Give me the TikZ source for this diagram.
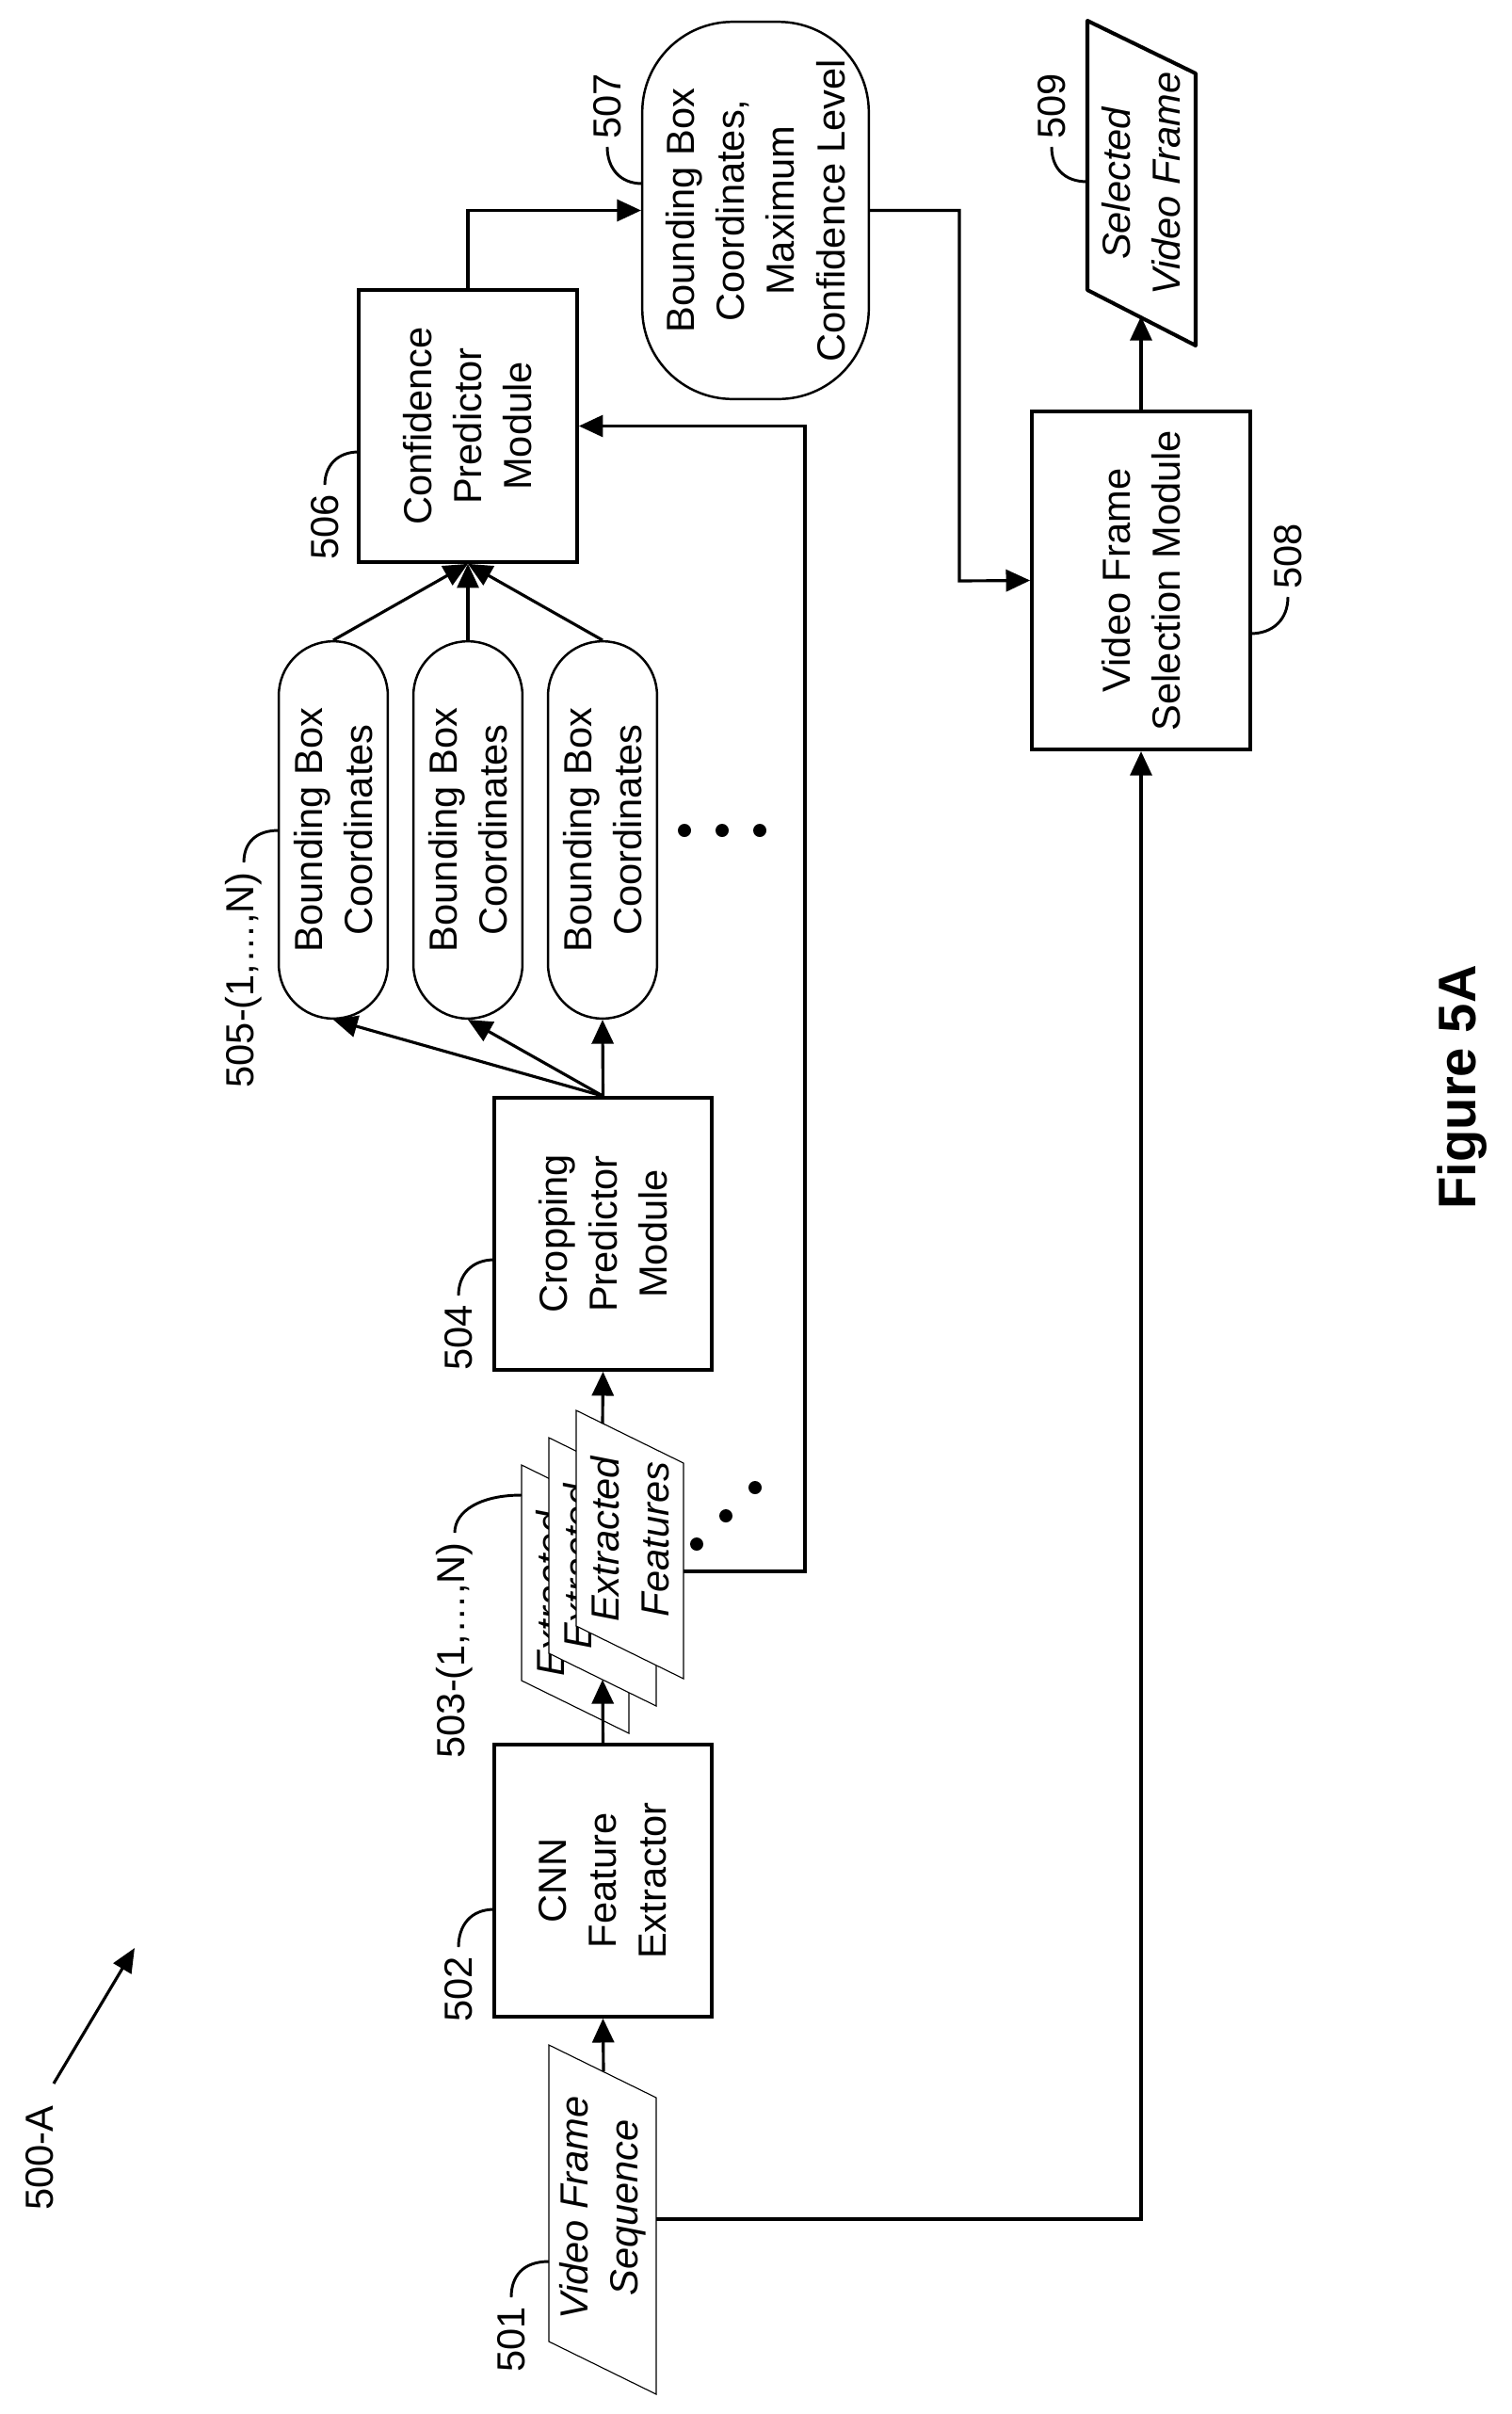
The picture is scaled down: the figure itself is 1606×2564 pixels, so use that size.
\documentclass[tikz,border=0pt]{standalone}
\usepackage{fontspec}
\setmainfont{Liberation Sans}
\usetikzlibrary{arrows.meta}
\tikzset{
  box/.style={draw,line width=1.8pt,rotate=90,minimum width=4.51cm,minimum height=3.62cm,align=center,inner sep=0pt},
  pill/.style={draw,line width=1.1pt,rotate=90,rounded corners=0.9cm,minimum width=6.26cm,minimum height=1.81cm,align=center,inner sep=0pt},
  lab/.style={rotate=90,inner sep=0pt},
  arr/.style={line width=1.4pt,-{Triangle[length=0.4cm,width=0.36cm]}},
  ln/.style={line width=1.4pt},
  lead/.style={line width=1.3pt},
  sheet/.style={draw,fill=white,line width=0.5pt},
}
\begin{document}
\begin{tikzpicture}[x=0.01562cm,y=-0.01562cm]
  \fontsize{18.5}{23.6}\selectfont
  \useasboundingbox (0,0) rectangle (1606,2564);

  % video frame sequence
  \filldraw[sheet] (583,2172)--(697,2228)--(697,2543)--(583,2487)--cycle;
  \node[lab,align=center,font=\itshape] (vfs) at (640,2345) {Video Frame\\Sequence};
  \coordinate (vfsN) at (641,2200);
  \coordinate (vfsE) at (697,2357);

  % feature sheets, back to front
  \foreach \d/\nm in {58/fb,29/fm,0/ff}{
    \filldraw[sheet] (612-\d,1498+\d)--(726-\d,1554+\d)--(726-\d,1783+\d)--(612-\d,1727+\d)--cycle;
    \node[lab,align=center,font=\itshape] (\nm) at (669-\d,1635+\d) {Extracted\\Features};
  }
  \coordinate (fmS) at (640,1784);
  \coordinate (ffN) at (640,1512);
  \coordinate (ffE) at (726,1669);

  \node[box] (cnn) at (640.5,1997.5) {CNN\\Feature\\Extractor};
  \node[box] (crop) at (640.5,1310.5) {Cropping\\Predictor\\Module};
  \node[box] (conf) at (497,452.5) {Confidence\\Predictor\\Module};
  \node[box,minimum width=5.61cm] (sel) at (1212,616.5) {Video Frame\\Selection Module};

  \node[pill] (bb1) at (354,881.5) {Bounding Box\\Coordinates};
  \node[pill] (bb2) at (497,881.5) {Bounding Box\\Coordinates};
  \node[pill] (bb3) at (640,881.5) {Bounding Box\\Coordinates};

  \node[pill,rounded corners=1.5cm,minimum width=6.26cm,minimum height=3.76cm] (max) at (802.5,223.5)
    {Bounding Box\\Coordinates,\\Maximum\\Confidence Level};

  % selected frame
  \draw[line width=1.8pt,line join=round] (1155,22)--(1270,78)--(1270,367)--(1155,308)--cycle;
  \node[lab,align=center,font=\itshape] (out) at (1212,195) {Selected\\Video Frame};
  \coordinate (outS) at (1212,336);

  % dots
  \foreach \p in {(740,1640),(771,1610),(802,1580),(727,882),(767,882),(807,882)}
    \fill \p circle (7);

  % connectors
  \draw[arr] (vfsN) -- (cnn.west);
  \draw[arr] (cnn.east) -- (fmS);
  \draw[arr] (ffN) -- (crop.west);
  \foreach \b in {bb1,bb2,bb3}{
    \draw[arr] (crop.east) -- (\b.west);
    \draw[arr] (\b.east) -- (conf.west);
  }
  \draw[arr] (ffE) -- (855,1669) -- (855,452.5) -- (conf.south);
  \draw[arr] (conf.east) -- (497,223.5) -- (max.north);
  \draw[arr] (max.south) -- (1019,223.5) -- (1019,617) -- (sel.north);
  \draw[arr] (vfsE) -- (1212,2357) -- (sel.west);
  \draw[arr] (sel.east) -- (outS);

  % reference numerals
  \draw[lead] (583,2402) .. controls (555,2402) and (543,2418) .. (543,2440);
  \node[lab,anchor=east] (n501) at (543,2450) {501};
  \draw[lead] (525,2028) .. controls (500,2028) and (487,2045) .. (487,2068);
  \node[lab,anchor=east] (n502) at (487,2078) {502};
  \draw[lead] (554,1588) .. controls (510,1588) and (483,1605) .. (483,1628);
  \node[lab,anchor=east] (n503) at (483,1638) {503-(1,\ldots,N)};
  \draw[lead] (525,1338) .. controls (500,1338) and (487,1355) .. (487,1376);
  \node[lab,anchor=east] (n504) at (487,1386) {504};
  \draw[lead] (296,882) .. controls (272,882) and (259,895) .. (259,916);
  \node[lab,anchor=east] (n505) at (259,926) {505-(1,\ldots,N)};
  \draw[lead] (381,480) .. controls (358,480) and (345,495) .. (345,515);
  \node[lab,anchor=east] (n506) at (345,525) {506};
  \draw[lead] (682,195) .. controls (658,195) and (645,178) .. (645,156);
  \node[lab,anchor=west] (n507) at (645,148) {507};
  \draw[lead] (1328,673) .. controls (1352,673) and (1368,658) .. (1368,634);
  \node[lab,anchor=west] (n508) at (1368,626) {508};
  \draw[lead] (1155,193) .. controls (1130,193) and (1117,178) .. (1117,156);
  \node[lab,anchor=west] (n509) at (1117,148) {509};

  % figure reference
  \draw[arr,-{Triangle[length=0.4cm,width=0.34cm]}] (57,2213) -- (143,2069);
  \node[lab,anchor=east] (n500) at (42,2236) {500-A};
  \node[lab,font=\bfseries\fontsize{25}{30}\selectfont] (fig) at (1553,1155) {Figure 5A};
\end{tikzpicture}
\end{document}
